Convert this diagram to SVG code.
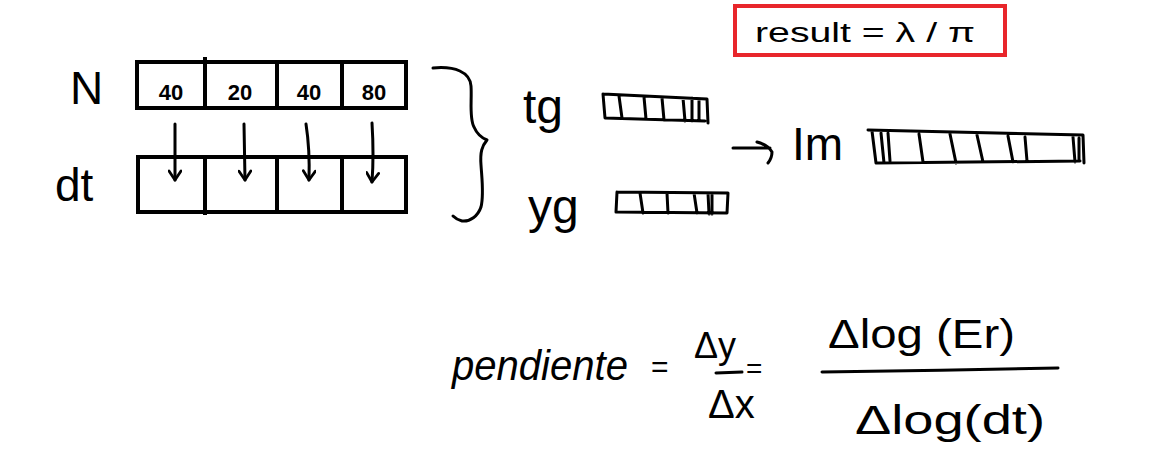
<svg xmlns="http://www.w3.org/2000/svg" width="1161" height="475" viewBox="0 0 1161 475">
<style>
.ink{fill:none;stroke:#000;stroke-width:3;stroke-linecap:round;stroke-linejoin:round}
.box{fill:none;stroke:#000;stroke-width:4}
.hw{font-family:"Liberation Sans",Arial,sans-serif;fill:#000}
.num{font-family:"Liberation Sans",Arial,sans-serif;font-weight:bold;font-size:22px;fill:#000;text-anchor:middle}
</style>
<defs>
<marker id="vhead" viewBox="0 0 14 14" refX="12" refY="7" markerWidth="14" markerHeight="14" markerUnits="userSpaceOnUse" orient="auto">
<path d="M3,1 L12,7 L3,13" fill="none" stroke="#000" stroke-width="2.8" stroke-linecap="round" stroke-linejoin="round"/>
</marker>
</defs>
<rect width="1161" height="475" fill="#fff"/>

<g id="result">
<rect x="735" y="6" width="270" height="49" fill="none" stroke="#e8262b" stroke-width="4"/>
<text class="hw" x="755" y="42" font-size="27" textLength="220" lengthAdjust="spacingAndGlyphs">result = λ / π</text>
</g>

<g id="labelN"><text class="hw" x="70" y="104" font-size="46">N</text></g>
<g id="labelDt"><text class="hw" x="55" y="201" font-size="46">dt</text></g>

<g id="tableN">
<rect class="box" x="137" y="62" width="269" height="46"/>
<path class="box" d="M205,57 V108 M277,62 V108 M342,62 V108"/>
<text class="num" x="171" y="100">40</text>
<text class="num" x="240" y="100">20</text>
<text class="num" x="309" y="100">40</text>
<text class="num" x="374" y="100">80</text>
</g>

<g id="tableDt">
<rect class="box" x="138" y="157" width="268" height="55"/>
<path class="box" d="M205,157 V215 M277,157 V212 M342,157 V212"/>
</g>

<g id="connectors">
<path class="ink" d="M175,124 V180" marker-end="url(#vhead)"/>
<path class="ink" d="M244,124 L245,180" marker-end="url(#vhead)"/>
<path class="ink" d="M306,124 Q310,150 309,180" marker-end="url(#vhead)"/>
<path class="ink" d="M372,123 Q374,155 372,182" marker-end="url(#vhead)"/>
<path class="ink" d="M433,68 C455,66 470,72 471,86 C472,100 469,118 474,127 C477,134 482,138 487,140 C482,146 480,152 481,165 C482,180 484,195 481,207 C478,216 470,222 462,221 C458,220 455,218 453,216"/>
<path class="ink" d="M733,148 L770,148 M757,142 Q768,145 772,152 Q772,158 768,163"/>
</g>

<g id="tg">
<text class="hw" x="523" y="123" font-size="48">tg</text>
<path class="ink" d="M603,94 L707,99 L708,123 M603,94 L605,118 L705,121 M619,96 L622,118 M644,97 L646,119 M662,98 L664,120 M683,98 L685,121 M692,98 L692,121 M699,99 L699,121"/>
</g>

<g id="yg">
<text class="hw" x="528" y="223" font-size="48">yg</text>
<path class="ink" d="M617,192 L728,193 L727,213 M617,192 L616,212 L727,213 M640,193 L643,213 M667,193 L668,213 M694,193 L697,213 M708,193 L709,214 M712,195 L712,214"/>
</g>

<g id="Im">
<text class="hw" x="792" y="160" font-size="46">Im</text>
<path class="ink" d="M868,130 L1083,135 L1084,163 M872,131 L876,163 L1080,161 M881,133 L884,163 M888,133 L890,161 M919,134 L923,162 M950,134 L956,163 M977,135 L983,162 M1008,136 L1013,162 M1025,137 L1027,161 M1073,137 L1075,162 M1079,138 L1079,161"/>
</g>

<g id="formula">
<text class="hw" x="452" y="380" font-size="42" font-style="italic" textLength="176" lengthAdjust="spacingAndGlyphs">pendiente</text>
<text class="hw" x="651" y="377" font-size="30">=</text>
<text class="hw" x="694" y="358" font-size="36">Δy</text>
<path class="ink" d="M716,373 L742,372"/>
<text class="hw" x="746" y="378" font-size="28">=</text>
<text class="hw" x="708" y="418" font-size="40">Δx</text>
<text class="hw" x="828" y="348" font-size="40" textLength="187" lengthAdjust="spacingAndGlyphs">Δlog (Er)</text>
<path class="ink" d="M822,372 C900,371 980,370 1058,368"/>
<text class="hw" x="855" y="434" font-size="40" textLength="190" lengthAdjust="spacingAndGlyphs">Δlog(dt)</text>
</g>
</svg>
